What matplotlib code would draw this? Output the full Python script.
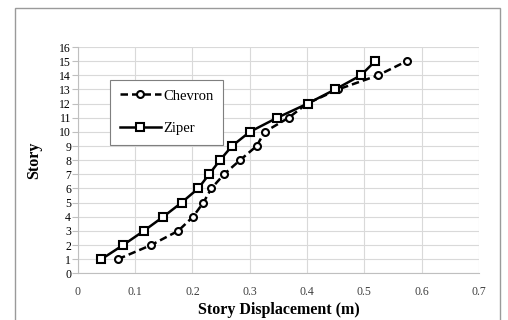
import matplotlib.pyplot as plt
from matplotlib.patches import Rectangle

plt.rcParams['font.family'] = ['Liberation Serif', 'DejaVu Serif']

# 楼层和位移数据
stories = list(range(1, 16))
chevron = [0.070, 0.128, 0.175, 0.201, 0.219, 0.233, 0.255, 0.283, 0.312, 0.326,
           0.368, 0.400, 0.454, 0.524, 0.574]
ziper = [0.041, 0.079, 0.115, 0.149, 0.181, 0.210, 0.229, 0.248, 0.269, 0.300,
         0.348, 0.401, 0.449, 0.494, 0.519]

x_ticks = [0, 0.1, 0.2, 0.3, 0.4, 0.5, 0.6, 0.7]
x_tick_labels = ['0', '0.1', '0.2', '0.3', '0.4', '0.5', '0.6', '0.7']

fig = plt.figure(figsize=(5.08, 3.2), dpi=100)
ax = fig.add_axes([0.1535, 0.146, 0.789, 0.707])

# 外框
fig.patches.append(Rectangle((15 / 508, -0.1), 485 / 508, 1.1 - 7.5 / 320,
                             transform=fig.transFigure, fill=False,
                             edgecolor='#9a9a9a', linewidth=1.0))

ax.plot(chevron, stories, color='black', linewidth=1.8, linestyle=(0, (3, 1.6)),
        marker='o', markersize=5, markerfacecolor='white',
        markeredgecolor='black', markeredgewidth=1.5, label='Chevron')
ax.plot(ziper, stories, color='black', linewidth=1.8,
        marker='s', markersize=6, markerfacecolor='white',
        markeredgecolor='black', markeredgewidth=1.5, label='Ziper')

ax.set_xlim(0, 0.7)
ax.set_ylim(0, 16)
ax.set_xticks(x_ticks)
ax.set_xticklabels(x_tick_labels)
ax.set_yticks(range(0, 17))

ax.grid(True, color='#d9d9d9', linewidth=0.8)
ax.set_axisbelow(True)
for side in ['top', 'right']:
    ax.spines[side].set_visible(False)
for side in ['left', 'bottom']:
    ax.spines[side].set_color('#bfbfbf')
    ax.spines[side].set_linewidth(0.8)

ax.tick_params(axis='x', length=0, pad=9, labelsize=8.5, colors='#404040')
ax.tick_params(axis='y', length=4, width=0.8, color='#bfbfbf', pad=1,
               labelsize=8.5, labelcolor='black')

ax.set_xlabel('Story Displacement (m)', fontsize=11.5, fontweight='bold', labelpad=3)
ax.set_ylabel('Story', fontsize=11.5, fontweight='bold', labelpad=12)

leg = ax.legend(loc='upper left', bbox_to_anchor=(0.081, 0.855), fontsize=10.5,
                frameon=True, fancybox=False, edgecolor='#7f7f7f', framealpha=1,
                handlelength=2.8, labelspacing=1.35, borderpad=0.65,
                handletextpad=0.2, borderaxespad=0)
leg.get_frame().set_linewidth(0.8)

plt.savefig('out.png', dpi=100)
